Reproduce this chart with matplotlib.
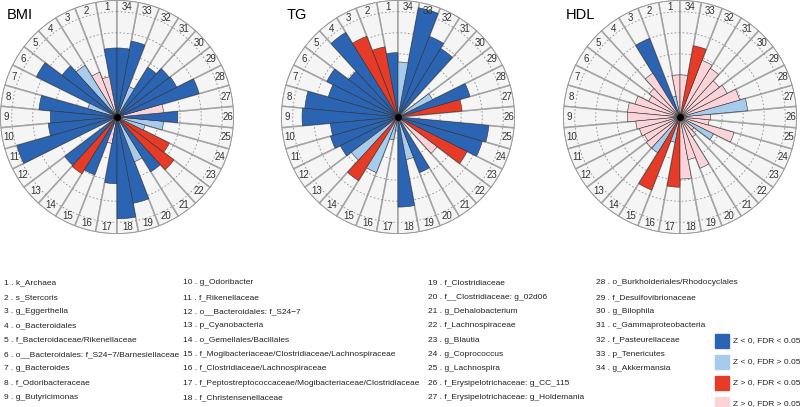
import numpy as np
import matplotlib
matplotlib.use('agg')
import matplotlib.pyplot as plt
from matplotlib.patches import Rectangle

plt.rcParams['font.family'] = ['Liberation Sans', 'DejaVu Sans']

# taxa names, numbered 1..34 around each wheel (counter-clockwise from top)
taxa = ['k_Archaea', 's_Stercoris', 'g_Eggerthella', 'o_Bacteroidales',
        'f_Bacteroidaceae/Rikenellaceae', 'o__Bacteroidales: f_S24\u22127/Barnesiellaceae',
        'g_Bacteroides', 'f_Odoribacteraceae', 'g_Butyricimonas',
        'g_Odoribacter', 'f_Rikenellaceae', 'o__Bacteroidales: f_S24\u22127',
        'p_Cyanobacteria', 'o_Gemellales/Bacillales',
        'f_Mogibacteriaceae/Clostridiaceae/Lachnospiraceae',
        'f_Clostridiaceae/Lachnospiraceae',
        'f_Peptostreptococcaceae/Mogibacteriaceae/Clostridiaceae',
        'f_Christensenellaceae',
        'f_Clostridiaceae', 'f__Clostridiaceae: g_02d06', 'g_Dehalobacterium',
        'f_Lachnospiraceae', 'g_Blautia', 'g_Coprococcus', 'g_Lachnospira',
        'f_Erysipelotrichaceae: g_CC_115', 'f_Erysipelotrichaceae: g_Holdemania',
        'o_Burkholderiales/Rhodocyclales', 'f_Desulfovibrionaceae', 'g_Bilophila',
        'c_Gammaproteobacteria', 'f_Pasteurellaceae', 'p_Tenericutes',
        'g_Akkermansia']

# bar length (fraction of wheel radius) and class per taxon
# class: 0 none, 1 Z<0 FDR<0.05, 2 Z<0 FDR>0.05, 3 Z>0 FDR<0.05, 4 Z>0 FDR>0.05
bmi_len = [0.59, 0.35, 0.41, 0.52, 0.59, 0.77, 0.26, 0.67, 0.57, 0.59,
           0.89, 0.00, 0.56, 0.57, 0.53, 0.23, 0.57, 0.87, 0.75, 0.41,
           0.55, 0.61, 0.50, 0.25, 0.40, 0.52, 0.40, 0.73, 0.57, 0.56,
           0.50, 0.28, 0.66, 0.59]
bmi_cls = [1, 4, 4, 2, 1, 1, 2, 1, 1, 1,
           1, 0, 1, 3, 1, 4, 1, 1, 1, 2,
           1, 3, 3, 2, 2, 1, 4, 1, 1, 1,
           1, 2, 1, 1]

tg_len = [0.55, 0.61, 0.74, 0.85, 0.53, 0.68, 0.62, 0.80, 0.82, 0.58,
          0.60, 0.55, 0.50, 0.64, 0.51, 0.20, 0.12, 0.77, 0.37, 0.51,
          0.00, 0.42, 0.66, 0.75, 0.78, 0.00, 0.55, 0.64, 0.33, 0.00,
          0.69, 0.74, 0.95, 0.47]
tg_cls = [1, 3, 3, 1, 1, 1, 1, 1, 1, 1,
          1, 1, 2, 3, 2, 2, 2, 1, 2, 1,
          0, 4, 3, 1, 1, 0, 3, 1, 2, 0,
          1, 1, 1, 2]

hdl_len = [0.36, 0.18, 0.72, 0.44, 0.33, 0.30, 0.40, 0.45, 0.45, 0.38,
           0.36, 0.34, 0.36, 0.36, 0.67, 0.22, 0.60, 0.53, 0.37, 0.47,
           0.20, 0.15, 0.32, 0.48, 0.25, 0.26, 0.58, 0.53, 0.45, 0.42,
           0.49, 0.52, 0.62, 0.36]
hdl_cls = [4, 2, 1, 4, 4, 4, 4, 4, 4, 4,
           4, 4, 4, 2, 3, 2, 3, 4, 4, 4,
           4, 4, 2, 4, 4, 4, 2, 4, 4, 4,
           4, 4, 3, 4]

class_colors = ['none', '#2c64b4', '#a6cbec', '#e63b26', '#fad4d9']
legend_labels = ['Z < 0, FDR < 0.05', 'Z < 0, FDR > 0.05',
                 'Z > 0, FDR < 0.05', 'Z > 0, FDR > 0.05']

W, H = 800, 407
fig = plt.figure(figsize=(W / 100, H / 100), dpi=100)

n = len(taxa)
w = 2 * np.pi / n
theta = (np.arange(n) + 0.5) * w
circ = np.linspace(0, 2 * np.pi, 500)


def wheel(cx, cy, R, title, tx, lens, cls):
    ax = fig.add_axes([(cx - R) / W, (H - cy - R) / H, 2 * R / W, 2 * R / H],
                      projection='polar')
    ax.set_theta_zero_location('N')
    ax.set_theta_direction(1)
    ax.axis('off')
    ax.set_ylim(0, 1)
    # background sectors with grey separators
    ax.bar(theta, np.ones(n), width=w, color='#f5f5f5', edgecolor='#a3a3a3',
           linewidth=1.1, zorder=1)
    for r in [0.18, 0.36, 0.54, 0.72, 0.90]:
        ax.plot(circ, np.full(circ.shape, r), color='#8c8c8c', lw=0.6,
                ls=(0, (2, 2.5)), zorder=2)
    lens = np.array(lens)
    keep = [i for i in range(n) if cls[i] > 0]
    ax.bar(theta[keep], lens[keep], width=w,
           color=[class_colors[cls[i]] for i in keep],
           edgecolor='#333333', linewidth=0.4, zorder=3)
    ax.plot(circ, np.ones(circ.shape), color='#9a9a9a', lw=1.3, zorder=4)
    ax.plot([0], [0], 'o', color='k', ms=4, zorder=5)
    for i in range(n):
        ax.text(theta[i], 0.945, str(i + 1), ha='center', va='center',
                fontsize=7, color='#333333', zorder=6)
    fig.text(tx / W, 1 - 15 / H, title, fontsize=10.5, ha='left', va='center')


wheel(117, 117, 117, 'BMI', 7, bmi_len, bmi_cls)
wheel(398, 117, 117, 'TG', 287, tg_len, tg_cls)
wheel(680, 117, 117, 'HDL', 566, hdl_len, hdl_cls)

# numbered taxa list
col_x = [4, 183, 428, 596]
for i, name in enumerate(taxa):
    col = i // 9
    row = i % 9
    y = 283 + row * 14.3
    fig.text(col_x[col] / W, 1 - y / H, '{} . {}'.format(i + 1, name),
             fontsize=6, ha='left', va='center', color='#222222')

# colour legend
for k, lab in enumerate(legend_labels):
    y = 341 + k * 21
    fig.patches.append(Rectangle((715 / W, 1 - (y + 7) / H), 14 / W, 14 / H,
                                 transform=fig.transFigure,
                                 color=class_colors[k + 1], figure=fig))
    fig.text(733 / W, 1 - y / H, lab, fontsize=6, ha='left', va='center',
             color='#222222')

fig.savefig('out.png', dpi=100)
